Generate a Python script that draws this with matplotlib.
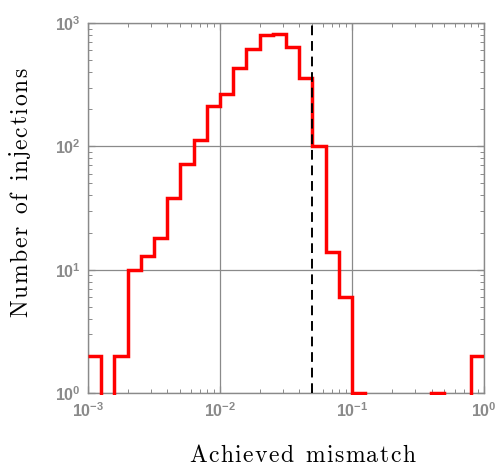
import numpy as np
import matplotlib
matplotlib.use("Agg")
import matplotlib.pyplot as plt
from matplotlib.ticker import FuncFormatter, LogLocator
from matplotlib.transforms import Bbox, TransformedBbox
from matplotlib.font_manager import FontProperties

plt.rcParams['mathtext.fontset'] = 'custom'
plt.rcParams['mathtext.bf'] = 'Liberation Sans:bold'
plt.rcParams['mathtext.rm'] = 'Liberation Sans:bold'

# histogram of achieved mismatch, 10 bins per decade from 1e-3 to 1
bin_exponents = np.linspace(-3, 0, 31)
counts = [2, 0, 2, 10, 13, 18, 38, 72, 113, 214,
          268, 434, 620, 795, 812, 644, 361, 100, 14, 6,
          1, 0, 0, 0, 0, 0, 1, 0, 0, 2]
threshold = 0.05
xlabel = 'Achieved mismatch'
ylabel = 'Number of injections'

edges = 10.0 ** bin_exponents
vals = np.array(counts, dtype=float)
vals[vals == 0] = 0.5   # empty bins fall below the axis

gray = '#8a8a8a'


def letter_spaced(fig, text, x_px, y_px, span_px, size, vertical=False):
    # lay the label out char by char to get the wide tracking of the original
    r = fig.canvas.get_renderer()
    prop = FontProperties(family='cmr10', size=size)
    W, H = fig.bbox.width, fig.bbox.height
    widths = []
    for ch in text:
        if ch == ' ':
            widths.append(0.38 * size * fig.dpi / 72)
        else:
            w, h, d = r.get_text_width_height_descent(ch, prop, ismath=False)
            widths.append(w)
    gap = (span_px - sum(widths)) / (len(text) - 1)
    pos = 0
    for ch, w in zip(text, widths):
        if ch != ' ':
            if vertical:
                fig.text(x_px / W, 1 - (y_px - pos) / H, ch, fontproperties=prop,
                         rotation=90, rotation_mode='anchor', ha='left', va='baseline')
            else:
                fig.text((x_px + pos) / W, 1 - y_px / H, ch, fontproperties=prop,
                         ha='left', va='baseline')
        pos += w + gap


fig = plt.figure(figsize=(4.99, 4.66), dpi=100)
ax = fig.add_axes([0.1764, 0.1567, 0.7936, 0.7939])

ax.set_xscale('log')
ax.set_yscale('log')
ax.set_xlim(1e-3, 1)
ax.set_ylim(1, 1e3)

ax.grid(True, which='major', color=gray, lw=0.9)
ax.set_axisbelow(True)

st = ax.stairs(vals, edges, baseline=None, color='red', lw=2.5, zorder=3)
# let the count==1 segments sit on the bottom spine without being cut in half
st.set_clip_box(TransformedBbox(Bbox([[0, -0.005], [1, 1]]), ax.transAxes))

ax.axvline(threshold, color='black', lw=1.4, ls=(0, (5, 3)), zorder=4)

fmt = FuncFormatter(lambda v, p: r'$\mathbf{10^{%d}}$' % int(round(np.log10(v))))
ax.xaxis.set_major_formatter(fmt)
ax.yaxis.set_major_formatter(fmt)
ax.xaxis.set_major_locator(LogLocator(base=10, numticks=10))
ax.yaxis.set_major_locator(LogLocator(base=10, numticks=10))
ax.xaxis.set_minor_locator(LogLocator(base=10, subs=np.arange(2, 10), numticks=20))
ax.yaxis.set_minor_locator(LogLocator(base=10, subs=np.arange(2, 10), numticks=20))
ax.xaxis.set_minor_formatter(plt.NullFormatter())
ax.yaxis.set_minor_formatter(plt.NullFormatter())

ax.tick_params(which='both', direction='in', top=True, right=True, color=gray,
               labelcolor=gray, labelsize=11.5)
ax.tick_params(which='major', length=5, width=0.9)
ax.tick_params(which='minor', length=3, width=0.7)
ax.tick_params(axis='x', pad=6)
ax.tick_params(axis='y', pad=5)

for s in ax.spines.values():
    s.set_color(gray)
    s.set_linewidth(1.0)

letter_spaced(fig, xlabel, 189, 462, 226, 17)
letter_spaced(fig, ylabel, 27, 317, 249, 17, vertical=True)

fig.savefig('out.png', dpi=100)
